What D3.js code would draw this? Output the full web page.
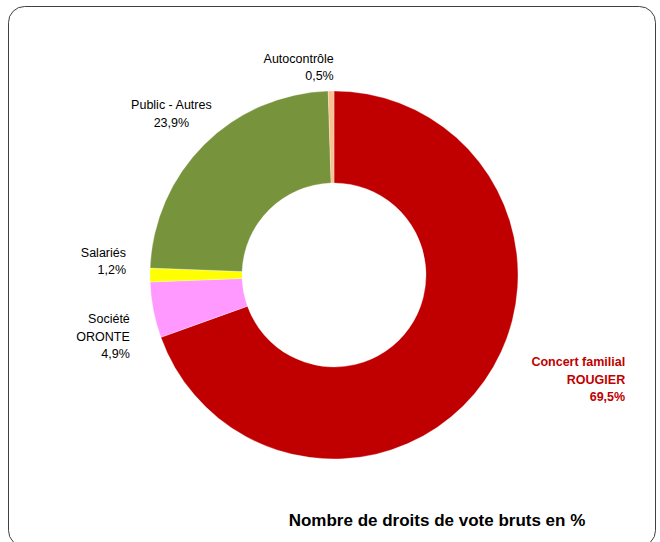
<!DOCTYPE html>
<html lang="fr">
<head>
    <meta charset="UTF-8">
    <title>Nombre de droits de vote bruts en %</title>
    <script src="https://d3js.org/d3.v7.min.js"></script>
    <style>
        body { margin: 0; background: #fff; }
        text { font-family: "Liberation Sans", Arial, sans-serif; }
    </style>
</head>
<body>

<script>
    // Données
    var categories = ["Concert familial|ROUGIER", "Société|ORONTE", "Salariés", "Public - Autres", "Autocontrôle"];
    var values = [69.5, 4.9, 1.2, 23.9, 0.5];
    var colors = ["#C00000", "#FF99FF", "#FFFF00", "#77933C", "#FAC090"];
    var title = "Nombre de droits de vote bruts en %";

    var width = 660;
    var height = 542;
    var cx = 334, cy = 275;
    var outerR = 184, innerR = 92;

    var svg = d3.select("body").append("svg")
        .attr("width", width)
        .attr("height", height);

    // Cadre arrondi
    svg.append("rect")
        .attr("x", 8.5).attr("y", 6.5)
        .attr("width", 647).attr("height", 540)
        .attr("rx", 16).attr("ry", 16)
        .attr("fill", "#fff")
        .attr("stroke", "#404040")
        .attr("stroke-width", 1);

    var color = d3.scaleOrdinal().domain(categories).range(colors);

    var data = categories.map((c, i) => ({ cat: c, value: values[i] }));

    var pie = d3.pie().value((d) => d.value).sort(null);
    var arc = d3.arc().innerRadius(innerR).outerRadius(outerR);
    var labelArc = d3.arc().innerRadius(outerR + 24).outerRadius(outerR + 24);

    var g = svg.append("g").attr("transform", "translate(" + cx + "," + cy + ")");

    var arcs = pie(data);

    g.selectAll("path")
        .data(arcs)
        .enter().append("path")
        .attr("d", arc)
        .attr("fill", (d) => color(d.data.cat))
        .attr("stroke", "#fff")
        .attr("stroke-width", 0.3);

    // Étiquettes (décalages à la main comme dans Excel)
    var nudges = [[121, -15, "end"], [0, 22, "end"], [0, -14, "end"], [-16, -14, "middle"], [3, 0, "end"]];

    g.selectAll("text.lbl")
        .data(arcs)
        .enter().append("text")
        .attr("class", "lbl")
        .each(function (d, i) {
            var c = labelArc.centroid(d);
            var n = nudges[i];
            var lines = d.data.cat.split("|").concat([d.data.value.toFixed(1).replace(".", ",") + "%"]);
            var t = d3.select(this)
                .attr("text-anchor", n[2])
                .attr("font-size", "12.5px")
                .attr("fill", i === 0 ? "#C00000" : "#000")
                .attr("font-weight", i === 0 ? "bold" : "normal");
            var x = c[0] + n[0];
            var y0 = c[1] + n[1] - (lines.length - 1) * 17.5 / 2;
            lines.forEach((l, k) => {
                t.append("tspan")
                    .attr("x", x)
                    .attr("y", y0 + k * 17.5)
                    .attr("dy", "0.35em")
                    .text(l);
            });
        });

    // Titre
    svg.append("text")
        .attr("x", 437)
        .attr("y", 520)
        .attr("dy", "0.35em")
        .attr("text-anchor", "middle")
        .attr("font-size", "17px")
        .attr("font-weight", "bold")
        .attr("fill", "#000")
        .text(title);
</script>

</body>
</html>
